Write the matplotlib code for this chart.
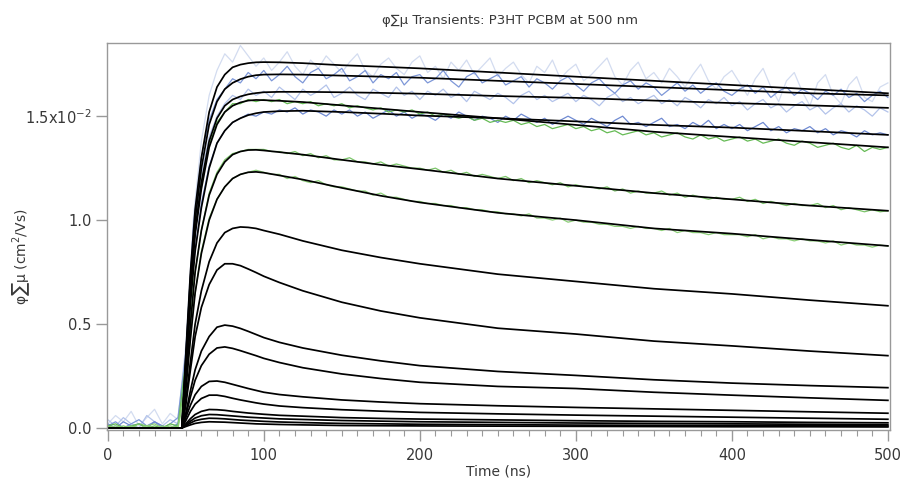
import matplotlib
matplotlib.use("Agg")
import matplotlib.pyplot as plt

# fitted transients, in units of 1e-2 cm^2/Vs
t_fit = [0, 47.5, 50, 53, 56, 60, 65, 70, 75, 80, 85, 90, 95, 100, 110, 125, 150, 175, 200, 250, 300, 350, 400, 450, 500]
fits = [
    [0, 0, 0.35, 0.75, 1.05, 1.30, 1.52, 1.64, 1.70, 1.735, 1.748, 1.755, 1.759, 1.76, 1.759, 1.755, 1.745, 1.738, 1.73, 1.71, 1.69, 1.67, 1.65, 1.63, 1.61],
    [0, 0, 0.33, 0.72, 1.00, 1.25, 1.46, 1.57, 1.63, 1.66, 1.678, 1.69, 1.697, 1.70, 1.701, 1.70, 1.695, 1.69, 1.685, 1.67, 1.655, 1.64, 1.625, 1.61, 1.60],
    [0, 0, 0.30, 0.68, 0.95, 1.18, 1.38, 1.49, 1.55, 1.58, 1.595, 1.605, 1.611, 1.615, 1.617, 1.617, 1.615, 1.612, 1.608, 1.597, 1.588, 1.575, 1.563, 1.552, 1.54],
    [0, 0, 0.30, 0.66, 0.93, 1.15, 1.35, 1.46, 1.52, 1.55, 1.566, 1.575, 1.578, 1.577, 1.574, 1.568, 1.552, 1.536, 1.52, 1.49, 1.458, 1.425, 1.40, 1.375, 1.35],
    [0, 0, 0.25, 0.60, 0.85, 1.06, 1.25, 1.37, 1.43, 1.47, 1.49, 1.505, 1.514, 1.52, 1.524, 1.526, 1.52, 1.512, 1.503, 1.49, 1.475, 1.458, 1.445, 1.428, 1.41],
    [0, 0, 0.22, 0.50, 0.75, 0.95, 1.12, 1.22, 1.28, 1.315, 1.33, 1.337, 1.338, 1.335, 1.327, 1.315, 1.29, 1.266, 1.245, 1.20, 1.165, 1.13, 1.10, 1.07, 1.045],
    [0, 0, 0.18, 0.43, 0.65, 0.84, 1.00, 1.10, 1.16, 1.20, 1.22, 1.23, 1.232, 1.228, 1.215, 1.195, 1.155, 1.117, 1.085, 1.035, 1.00, 0.96, 0.935, 0.905, 0.876],
    [0, 0, 0.13, 0.32, 0.50, 0.66, 0.80, 0.89, 0.94, 0.96, 0.967, 0.965, 0.96, 0.95, 0.932, 0.90, 0.855, 0.82, 0.79, 0.74, 0.705, 0.67, 0.645, 0.615, 0.588],
    [0, 0, 0.11, 0.28, 0.44, 0.58, 0.69, 0.76, 0.79, 0.79, 0.781, 0.765, 0.748, 0.73, 0.70, 0.66, 0.605, 0.563, 0.53, 0.48, 0.452, 0.418, 0.395, 0.37, 0.348],
    [0, 0, 0.07, 0.18, 0.28, 0.37, 0.44, 0.485, 0.495, 0.49, 0.479, 0.465, 0.45, 0.435, 0.412, 0.385, 0.35, 0.323, 0.30, 0.272, 0.253, 0.232, 0.216, 0.204, 0.194],
    [0, 0, 0.06, 0.15, 0.23, 0.30, 0.355, 0.385, 0.39, 0.383, 0.372, 0.36, 0.348, 0.335, 0.315, 0.29, 0.26, 0.238, 0.22, 0.20, 0.19, 0.172, 0.158, 0.145, 0.133],
    [0, 0, 0.05, 0.11, 0.16, 0.20, 0.224, 0.226, 0.22, 0.21, 0.20, 0.19, 0.181, 0.172, 0.161, 0.15, 0.135, 0.125, 0.117, 0.107, 0.099, 0.092, 0.085, 0.078, 0.071],
    [0, 0, 0.035, 0.08, 0.115, 0.142, 0.158, 0.158, 0.152, 0.143, 0.135, 0.128, 0.121, 0.115, 0.106, 0.098, 0.088, 0.081, 0.075, 0.068, 0.062, 0.057, 0.052, 0.047, 0.042],
    [0, 0, 0.02, 0.045, 0.065, 0.08, 0.089, 0.088, 0.085, 0.08, 0.076, 0.072, 0.069, 0.066, 0.061, 0.057, 0.05, 0.046, 0.043, 0.039, 0.035, 0.032, 0.03, 0.027, 0.025],
    [0, 0, 0.015, 0.033, 0.048, 0.059, 0.065, 0.064, 0.061, 0.058, 0.055, 0.052, 0.05, 0.048, 0.044, 0.041, 0.036, 0.033, 0.03, 0.027, 0.024, 0.022, 0.02, 0.018, 0.016],
    [0, 0, 0.011, 0.024, 0.035, 0.042, 0.047, 0.046, 0.044, 0.041, 0.038, 0.036, 0.034, 0.032, 0.029, 0.026, 0.022, 0.02, 0.018, 0.016, 0.014, 0.013, 0.012, 0.011, 0.010],
    [0, 0, 0.007, 0.015, 0.022, 0.027, 0.03, 0.029, 0.028, 0.026, 0.024, 0.022, 0.02, 0.019, 0.017, 0.015, 0.012, 0.011, 0.01, 0.009, 0.008, 0.007, 0.006, 0.006, 0.005],
]

# measured traces, sampled every 5 ns from 0 to 500
t_data = list(range(0, 505, 5))
data_light = [
    0.02, 0.06, 0.03, 0.08, 0.01, 0.05, 0.09, 0.02, 0.07, 0.04,
    0.40, 1.02, 1.38, 1.60, 1.72, 1.80, 1.76, 1.84, 1.79, 1.74,
    1.78, 1.72, 1.76, 1.81, 1.74, 1.70, 1.77, 1.73, 1.79, 1.75,
    1.71, 1.76, 1.80, 1.72, 1.69, 1.75, 1.78, 1.73, 1.70, 1.76,
    1.79, 1.71, 1.74, 1.68, 1.76, 1.72, 1.77, 1.70, 1.74, 1.78,
    1.69, 1.73, 1.76, 1.70, 1.66, 1.74, 1.71, 1.77, 1.68, 1.72,
    1.75, 1.67, 1.70, 1.74, 1.78, 1.69, 1.65, 1.72, 1.76, 1.68,
    1.71, 1.66, 1.73, 1.69, 1.64, 1.70, 1.75, 1.67, 1.63, 1.69,
    1.72, 1.66, 1.60, 1.68, 1.73, 1.64, 1.57, 1.67, 1.71, 1.62,
    1.55, 1.66, 1.70, 1.60, 1.56, 1.65, 1.69, 1.59, 1.57, 1.64,
    1.66,
]
data_blue2 = [
    0.01, 0.03, 0.00, 0.02, 0.04, 0.01, 0.03, 0.00, 0.02, 0.05,
    0.36, 0.98, 1.30, 1.48, 1.58, 1.63, 1.68, 1.66, 1.71, 1.68,
    1.72, 1.67, 1.70, 1.74, 1.69, 1.66, 1.71, 1.73, 1.68, 1.70,
    1.73, 1.67, 1.69, 1.72, 1.66, 1.70, 1.68, 1.71, 1.65, 1.69,
    1.70, 1.66, 1.68, 1.72, 1.67, 1.64, 1.69, 1.71, 1.66, 1.68,
    1.70, 1.65, 1.67, 1.69, 1.64, 1.68, 1.66, 1.63, 1.67, 1.69,
    1.65, 1.62, 1.66, 1.68, 1.64, 1.61, 1.65, 1.67, 1.63, 1.66,
    1.64, 1.60, 1.63, 1.66, 1.62, 1.65, 1.61, 1.64, 1.66, 1.62,
    1.60, 1.63, 1.65, 1.61, 1.64, 1.59, 1.62, 1.64, 1.60, 1.63,
    1.61, 1.58, 1.62, 1.60, 1.63, 1.59, 1.61, 1.57, 1.60, 1.62,
    1.59,
]
data_blue3 = [
    0.04, 0.01, 0.05, 0.02, 0.00, 0.06, 0.03, 0.01, 0.04, 0.02,
    0.33, 0.92, 1.22, 1.40, 1.50, 1.56, 1.60, 1.58, 1.63, 1.60,
    1.62, 1.59, 1.64, 1.61, 1.58, 1.63, 1.60, 1.62, 1.65, 1.59,
    1.61, 1.64, 1.60, 1.58, 1.63, 1.61, 1.59, 1.64, 1.60, 1.62,
    1.58, 1.62, 1.60, 1.63, 1.59, 1.61, 1.57, 1.62, 1.60, 1.58,
    1.61, 1.59, 1.56, 1.60, 1.62, 1.58, 1.60, 1.57, 1.59, 1.61,
    1.57, 1.60, 1.58, 1.55, 1.59, 1.61, 1.57, 1.59, 1.56, 1.58,
    1.60, 1.56, 1.58, 1.55, 1.59, 1.57, 1.54, 1.58, 1.56, 1.59,
    1.55, 1.57, 1.53, 1.56, 1.58, 1.54, 1.56, 1.52, 1.55, 1.57,
    1.53, 1.55, 1.51, 1.54, 1.56, 1.52, 1.55, 1.53, 1.50, 1.54,
    1.52,
]
data_green4 = [
    0.01, 0.02, 0.00, 0.01, 0.02, 0.00, 0.01, 0.00, 0.02, 0.01,
    0.32, 0.88, 1.18, 1.36, 1.47, 1.52, 1.56, 1.56, 1.58, 1.57,
    1.58, 1.57, 1.58, 1.56, 1.57, 1.56, 1.57, 1.55, 1.56, 1.55,
    1.56, 1.54, 1.55, 1.54, 1.53, 1.54, 1.52, 1.53, 1.52, 1.53,
    1.51, 1.52, 1.50, 1.51, 1.50, 1.49, 1.50, 1.48, 1.49, 1.47,
    1.48, 1.47, 1.48, 1.46, 1.47, 1.45, 1.46, 1.44, 1.45, 1.46,
    1.44, 1.45, 1.43, 1.44, 1.42, 1.43, 1.41, 1.42, 1.43, 1.41,
    1.42, 1.40, 1.41, 1.42, 1.40, 1.39, 1.41, 1.39, 1.40, 1.38,
    1.39, 1.40, 1.38, 1.39, 1.37, 1.38, 1.39, 1.37, 1.36, 1.38,
    1.37, 1.35, 1.36, 1.37, 1.35, 1.34, 1.36, 1.33, 1.35, 1.34,
    1.35,
]
data_blue5 = [
    0.02, 0.00, 0.03, 0.01, 0.02, 0.00, 0.03, 0.01, 0.00, 0.02,
    0.27, 0.80, 1.08, 1.26, 1.37, 1.43, 1.47, 1.49, 1.51, 1.50,
    1.52, 1.51, 1.53, 1.52, 1.54, 1.51, 1.53, 1.52, 1.50, 1.53,
    1.51, 1.53, 1.50, 1.52, 1.49, 1.51, 1.53, 1.50, 1.52, 1.49,
    1.51, 1.50, 1.48, 1.51, 1.49, 1.52, 1.50, 1.48, 1.50, 1.49,
    1.47, 1.50, 1.48, 1.51, 1.49, 1.47, 1.49, 1.46, 1.48, 1.50,
    1.48, 1.46, 1.49, 1.47, 1.45, 1.48, 1.50, 1.46, 1.47, 1.45,
    1.47, 1.49, 1.45, 1.46, 1.44, 1.47, 1.45, 1.48, 1.44, 1.46,
    1.44, 1.46, 1.43, 1.45, 1.47, 1.43, 1.45, 1.42, 1.44, 1.43,
    1.45, 1.42, 1.44, 1.41, 1.43, 1.42, 1.40, 1.43, 1.41, 1.42,
    1.41,
]
data_green6 = [
    0.01, 0.00, 0.01, 0.00, 0.02, 0.01, 0.00, 0.01, 0.00, 0.01,
    0.23, 0.70, 0.95, 1.13, 1.23, 1.29, 1.32, 1.33, 1.34, 1.34,
    1.34, 1.33, 1.33, 1.32, 1.33, 1.31, 1.32, 1.30, 1.31, 1.29,
    1.29, 1.30, 1.28, 1.28, 1.27, 1.28, 1.26, 1.27, 1.26, 1.25,
    1.25, 1.24, 1.25, 1.23, 1.24, 1.22, 1.23, 1.21, 1.22, 1.21,
    1.20, 1.21, 1.19, 1.20, 1.18, 1.19, 1.18, 1.17, 1.18, 1.16,
    1.17, 1.16, 1.16, 1.15, 1.16, 1.14, 1.15, 1.13, 1.14, 1.13,
    1.13, 1.14, 1.12, 1.13, 1.11, 1.12, 1.11, 1.10, 1.11, 1.10,
    1.10, 1.11, 1.09, 1.10, 1.08, 1.09, 1.08, 1.07, 1.08, 1.07,
    1.07, 1.08, 1.06, 1.07, 1.05, 1.06, 1.05, 1.04, 1.05, 1.04,
    1.045,
]
data_green7 = [
    0.00, 0.01, 0.00, 0.01, 0.00, 0.01, 0.02, 0.00, 0.01, 0.00,
    0.19, 0.60, 0.85, 1.01, 1.10, 1.16, 1.20, 1.22, 1.23, 1.24,
    1.23, 1.22, 1.22, 1.20, 1.21, 1.19, 1.18, 1.19, 1.17, 1.16,
    1.16, 1.15, 1.14, 1.14, 1.12, 1.13, 1.11, 1.11, 1.10, 1.09,
    1.09, 1.08, 1.08, 1.07, 1.07, 1.06, 1.06, 1.05, 1.05, 1.04,
    1.04, 1.03, 1.03, 1.02, 1.03, 1.01, 1.01, 1.00, 1.01, 0.99,
    1.00, 0.99, 0.99, 0.98, 0.98, 0.97, 0.97, 0.96, 0.97, 0.96,
    0.96, 0.95, 0.96, 0.94, 0.95, 0.94, 0.94, 0.93, 0.94, 0.93,
    0.93, 0.93, 0.92, 0.93, 0.91, 0.92, 0.91, 0.91, 0.90, 0.91,
    0.90, 0.90, 0.89, 0.90, 0.88, 0.89, 0.88, 0.88, 0.87, 0.88,
    0.875,
]

y_ticks = [0.0, 0.5, 1.0, 1.5]
y_ticklabels = ["0.0", "0.5", "1.0", "1.5x10$^{-2}$"]
x_ticks = [0, 100, 200, 300, 400, 500]

axis_gray = "#999999"
text_gray = "#383838"

fig = plt.figure(figsize=(9.02, 4.80), dpi=100)
ax = fig.add_axes([0.1186, 0.104, 0.868, 0.806])

# data first, fits on top
ax.plot(t_data, data_light, color="#d3dcf0", lw=0.9)
ax.plot(t_data, data_blue3, color="#b3c3ea", lw=0.9)
ax.plot(t_data, data_blue2, color="#7d97d8", lw=0.9)
ax.plot(t_data, data_blue5, color="#6f8ad2", lw=0.9)
ax.plot(t_data, data_green4, color="#66bb55", lw=0.9)
ax.plot(t_data, data_green6, color="#7cc66a", lw=0.9)
ax.plot(t_data, data_green7, color="#8ccf78", lw=0.9)

for f in fits:
    ax.plot(t_fit, f, color="black", lw=1.25, solid_joinstyle="round")

ax.set_xlim(-0.5, 501.3)
ax.set_ylim(-0.01, 1.851)

ax.set_xticks(x_ticks)
ax.set_xticks(list(range(0, 501, 10)), minor=True)
ax.set_yticks(y_ticks)
ax.set_yticklabels(y_ticklabels)

for side in ["left", "right", "top", "bottom"]:
    ax.spines[side].set_color(axis_gray)
    ax.spines[side].set_linewidth(1.0)

ax.tick_params(axis="both", which="major", direction="out", color=axis_gray,
               labelsize=10.5, labelcolor=text_gray, width=1.0)
ax.tick_params(axis="x", which="major", length=8, pad=5)
ax.tick_params(axis="x", which="minor", length=4, color=axis_gray, width=0.8)
ax.tick_params(axis="y", which="major", length=8, pad=3)

ax.set_xlabel("Time (ns)", fontsize=10, color=text_gray, labelpad=1)
fig.text(0.023, 0.465, "φ∑μ (cm$^2$/Vs)", rotation=90, ha="center", va="center",
         fontsize=10, color=text_gray)
fig.text(0.565, 0.958, "φ∑μ Transients: P3HT PCBM at 500 nm", ha="center", va="center",
         fontsize=9.5, color=text_gray)

fig.savefig("out.png", dpi=100)
